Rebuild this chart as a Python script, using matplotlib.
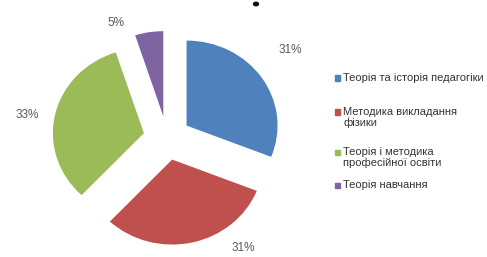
import matplotlib
matplotlib.use("Agg")
import matplotlib.pyplot as plt
from matplotlib.patches import Rectangle, Ellipse

# data
categories = ["Теорія та історія педагогіки",
              "Методика викладання\nфізики",
              "Теорія і методика\nпрофесійної освіти",
              "Теорія навчання"]
shares = [31, 31, 33, 5]
colors = ["#4F81BD", "#C0504D", "#9BBB59", "#8064A2"]

plt.rcParams['font.family'] = ['Liberation Sans', 'DejaVu Sans']

W, H = 487, 257
fig = plt.figure(figsize=(W / 100, H / 100), dpi=100)
ax = fig.add_axes([0, 0, 1, 1])
ax.axis('off')

wedges, texts, autotexts = ax.pie(shares, colors=colors, startangle=90, counterclock=False,
                                  explode=[0.26] * 4, autopct='%d%%', pctdistance=1.5,
                                  wedgeprops=dict(linewidth=0),
                                  textprops=dict(color='#595959', fontsize=8.5))
# original picture is a little stretched sideways: ~91 px per unit across, ~85 px up
cx, cy, sx, sy = 167, 138, 91.0, 85.0
ax.set_aspect('auto')
ax.set_xlim(-cx / sx, (W - cx) / sx)
ax.set_ylim(-(H - cy) / sy, cy / sy)

# percentage labels where the original has them
label_pos = [(1.35, 1.04), (0.84, -1.29), (-1.54, 0.27), (-0.56, 1.35)]
for t, p in zip(autotexts, label_pos):
    t.set_position(p)

# legend, drawn by hand so the swatch sits on the first text line
legend_rows = [78, 112, 152, 185]
for w, lab, yp in zip(wedges, categories, legend_rows):
    fig.patches.append(Rectangle((335 / W, 1 - (yp + 2.5) / H), 5 / W, 5 / H,
                                 transform=fig.transFigure, color=w.get_facecolor()))
    fig.text(343 / W, 1 - (yp - 5) / H, lab, fontsize=8, color='#333333',
             va='top', ha='left', linespacing=1.0)

# remnant of the cut-off title at the top edge (just a dark speck)
fig.patches.append(Ellipse((256 / W, 1 - 4 / H), 5 / W, 3.5 / H,
                           transform=fig.transFigure, color='#111111'))

fig.savefig("out.png", dpi=100, facecolor='white')
